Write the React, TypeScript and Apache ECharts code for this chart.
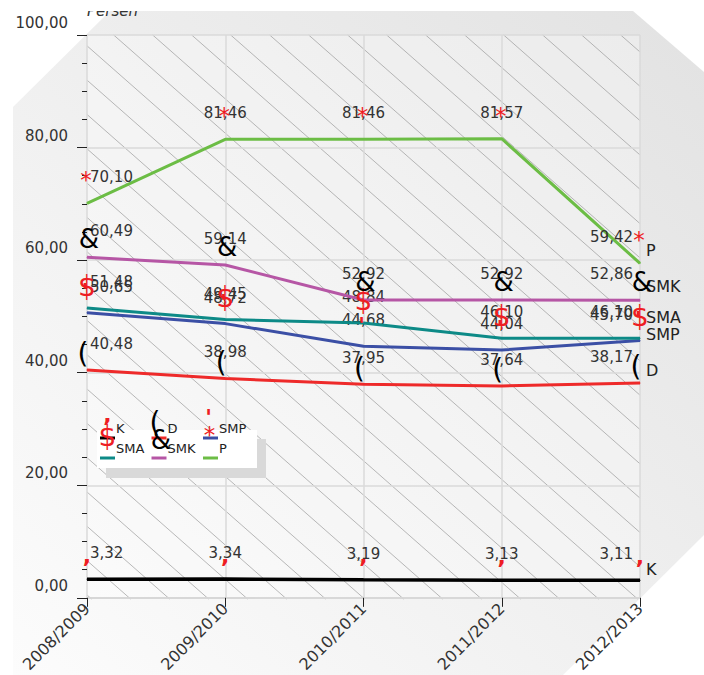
import React, { useEffect, useRef } from 'react';
import * as echarts from 'echarts';

// ---------- data ----------
const categories = ['2008/2009', '2009/2010', '2010/2011', '2011/2012', '2012/2013'];
const seriesNames = ['K', 'D', 'SMP', 'SMA', 'SMK', 'P'];
const valuesK = [3.32, 3.34, 3.19, 3.13, 3.11];
const valuesD = [40.48, 38.98, 37.95, 37.64, 38.17];
const valuesSMP = [50.65, 48.72, 44.68, 44.04, 45.7];
const valuesSMA = [51.48, 49.45, 48.84, 46.1, 46.1];
const valuesSMK = [60.49, 59.14, 52.92, 52.92, 52.86];
const valuesP = [70.1, 81.46, 81.46, 81.57, 59.42];
const yAxisName = 'Persen';
const yMin = 0;
const yMax = 100;
const yStep = 20;

const allValues = [valuesK, valuesD, valuesSMP, valuesSMA, valuesSMK, valuesP];

// ---------- styles ----------
const FONT = 'DejaVu Sans';
const RED = '#ee1d23';
const styles = [
  { color: '#000000', glyph: ',', gColor: RED, gSize: 22, gWeight: 'bold', gdx: 0, gdy: -24, endOff: [0, -11] },
  { color: '#ee2a2a', glyph: '(', gColor: '#000000', gSize: 28, gWeight: 'normal', gdx: -4, gdy: -16, endOff: [0, -12] },
  { color: '#3b4fa5', glyph: "'", gColor: RED, gSize: 22, gWeight: 'bold', gdx: -2, gdy: -21, endOff: [0, -6] },
  { color: '#0d8a87', glyph: '$', gColor: RED, gSize: 28, gWeight: 'normal', gdx: 0, gdy: -22, endOff: [0, -21] },
  { color: '#b656a5', glyph: '&', gColor: '#000000', gSize: 26, gWeight: 'normal', gdx: 2, gdy: -18, endOff: [0, -14] },
  { color: '#6cbd45', glyph: '*', gColor: RED, gSize: 23, gWeight: 'normal', gdx: -1, gdy: -23, endOff: [0, -13] },
];

// layout
const W = 704;
const H = 675;
const GL = 87;
const GT = 35;
const GW = 553;
const GH = 564;

const fmt = (v: number) => v.toFixed(2).replace('.', ',');

function hatchLines() {
  const out: any[] = [];
  const s = 0.88;
  const x1 = GL, x2 = GL + GW, y1 = GT, y2 = GT + GH;
  const tMaxY = (y2 - y1) / s;
  for (let k = -20; k <= 16; k++) {
    const x0 = 113.7 + 39 * k;
    const tA = Math.max(x1 - x0, 0);
    const tB = Math.min(x2 - x0, tMaxY);
    if (tB <= tA) continue;
    out.push({
      type: 'line',
      z: -5,
      silent: true,
      shape: { x1: x0 + tA, y1: y1 + s * tA, x2: x0 + tB, y2: y1 + s * tB },
      style: { stroke: '#8a8a8a', lineWidth: 0.7, opacity: 0.85 },
    });
  }
  return out;
}

function legendGraphics() {
  const out: any[] = [];
  out.push({ type: 'rect', z: 40, silent: true, shape: { x: 106, y: 439, width: 160, height: 39 }, style: { fill: '#d9d9d9' } });
  out.push({ type: 'rect', z: 41, silent: true, shape: { x: 97, y: 430, width: 160, height: 38 }, style: { fill: '#ffffff' } });
  seriesNames.forEach((name, i) => {
    const st = styles[i];
    const col = i % 3;
    const row = Math.floor(i / 3);
    const ix = 100 + col * 51.5;
    const iy = 438 + row * 20;
    out.push({ type: 'rect', z: 42, silent: true, shape: { x: ix, y: iy - 1.5, width: 15, height: 3 }, style: { fill: st.color } });
    out.push({
      type: 'text', z: 43, silent: true, x: ix + 16, y: iy - 10,
      style: { text: name, fill: '#222', font: `13px "${FONT}"`, verticalAlign: 'middle', align: 'left' },
    });
  });
  seriesNames.forEach((_, i) => {
    const st = styles[i];
    const col = i % 3;
    const row = Math.floor(i / 3);
    const ix = 100 + col * 51.5;
    const iy = 438 + row * 20;
    out.push({
      type: 'text', z: 44, silent: true, x: ix + 7.5 + st.gdx, y: iy + st.gdy,
      style: { text: st.glyph, fill: st.gColor, font: `${st.gWeight} ${st.gSize}px "${FONT}"`, verticalAlign: 'middle', align: 'center' },
    });
  });
  return out;
}

export default function App() {
  const ref = useRef<HTMLDivElement>(null);
  useEffect(() => {
    if (!ref.current) return;
    const chart = echarts.init(ref.current, undefined, { renderer: 'svg' });
    const last = categories.length - 1;

    const lineSeries = seriesNames.map((name, si) => ({
      type: 'line',
      name,
      z: 2 + si * 0.01,
      data: allValues[si].map((v, i) => ({
        value: v,
        label:
          i === 0
            ? { align: 'left', offset: [3, 0] }
            : i === last
            ? { align: 'right', offset: [-7, 0] }
            : {},
      })),
      symbol: 'circle',
      symbolSize: 1,
      itemStyle: { color: styles[si].color },
      lineStyle: { color: styles[si].color, width: si === 0 ? 3.5 : 3 },
      label: {
        show: true,
        position: 'top',
        distance: 18,
        formatter: (p: any) => fmt(p.value),
        fontFamily: FONT,
        fontSize: 15,
        color: '#333',
      },
      endLabel: {
        show: true,
        formatter: name,
        fontFamily: FONT,
        fontSize: 16,
        color: '#222',
        distance: 6,
        offset: styles[si].endOff,
      },
      silent: true,
    }));

    const glyphSeries = seriesNames.map((name, si) => ({
      type: 'scatter',
      name: name + '-glyph',
      z: 5,
      data: allValues[si],
      symbol: 'circle',
      symbolSize: 1,
      itemStyle: { color: 'rgba(0,0,0,0)', opacity: 1 },
      silent: true,
      label: {
        show: true,
        position: 'inside',
        formatter: () => styles[si].glyph,
        fontFamily: FONT,
        fontSize: styles[si].gSize,
        fontWeight: styles[si].gWeight,
        color: styles[si].gColor,
        opacity: 1,
        align: 'center',
        verticalAlign: 'middle',
        offset: [styles[si].gdx, styles[si].gdy],
      },
    }));

    chart.setOption({
      animation: false,
      grid: { left: GL, top: GT, width: GW, height: GH, containLabel: false },
      xAxis: {
        type: 'category',
        data: categories,
        boundaryGap: false,
        axisLine: { show: true, lineStyle: { color: '#d4d4d4', width: 1.5 } },
        axisTick: { show: true, length: 9, lineStyle: { color: '#222' } },
        splitLine: { show: true, lineStyle: { color: '#dadada', width: 1.5 } },
        axisLabel: { rotate: 45, fontFamily: FONT, fontSize: 16, color: '#333', margin: 8 },
      },
      yAxis: {
        type: 'value',
        min: yMin,
        max: yMax,
        interval: yStep,
        name: yAxisName,
        nameLocation: 'end',
        nameGap: 17,
        nameTextStyle: { fontFamily: FONT, fontStyle: 'italic', fontSize: 15, color: '#333', align: 'left' },
        axisLine: { show: false },
        axisTick: { show: true, length: 10, lineStyle: { color: '#222' } },
        minorTick: { show: true, splitNumber: 4, length: 5, lineStyle: { color: '#222' } },
        splitLine: { show: true, lineStyle: { color: '#dadada', width: 1.5 } },
        axisLabel: {
          formatter: (v: number) => fmt(v) + '\n ',
          fontFamily: FONT,
          fontSize: 15,
          lineHeight: 24,
          color: '#333',
          margin: 19,
        },
      },
      graphic: {
        elements: [
          {
            type: 'polygon',
            z: -20,
            silent: true,
            shape: { points: [[110, 11], [633, 11], [704, 72], [704, 535], [563, 675], [13, 675], [13, 107]] },
            style: {
              fill: new echarts.graphic.LinearGradient(0, 1, 1, 0, [
                { offset: 0, color: '#fcfcfc' },
                { offset: 1, color: '#e2e2e2' },
              ]),
            },
          },
          {
            type: 'rect',
            z: -10,
            silent: true,
            shape: { x: GL, y: GT, width: GW, height: GH },
            style: { fill: 'rgba(255,255,255,0.3)' },
          },
          ...hatchLines(),
          ...legendGraphics(),
          {
            type: 'rect',
            z: 100,
            silent: true,
            shape: { x: 0, y: 0, width: W, height: 11 },
            style: { fill: '#ffffff' },
          },
        ],
      },
      series: [...lineSeries, ...glyphSeries],
    });
    return () => chart.dispose();
  }, []);
  return <div ref={ref} style={{ position: 'fixed', left: 0, top: 0, width: W, height: H, background: '#fff' }} />;
}
